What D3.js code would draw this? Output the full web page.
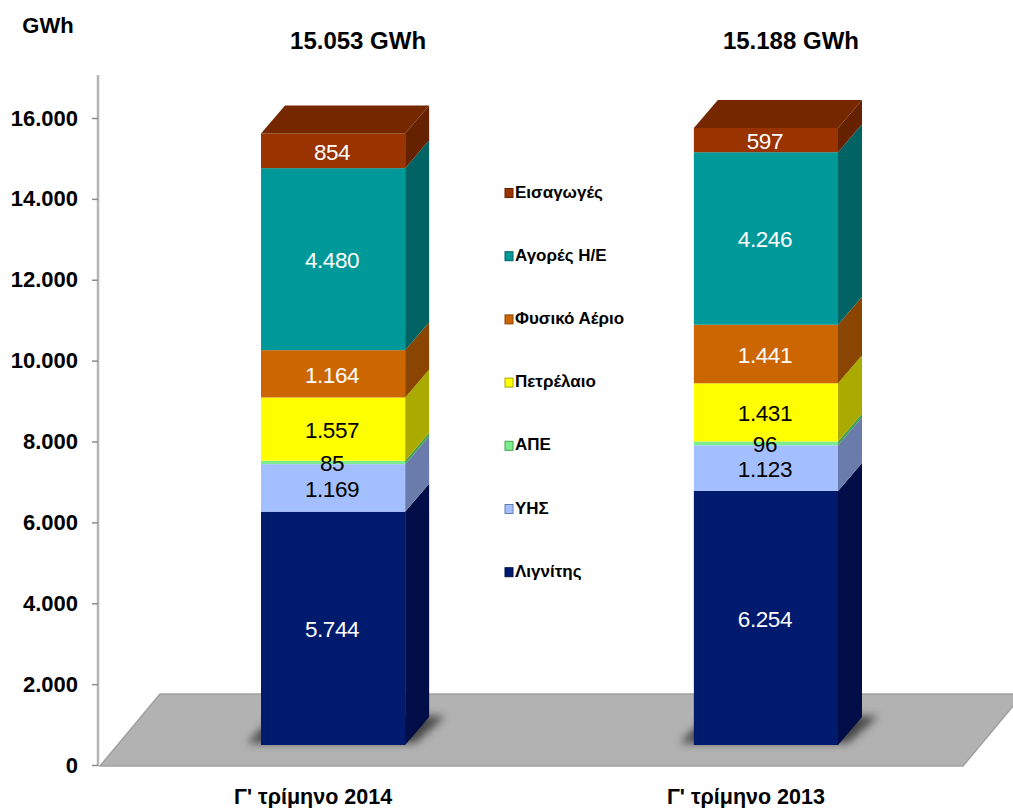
<!DOCTYPE html>
<html>
<head>
<meta charset="utf-8">
<script src="https://cdn.jsdelivr.net/npm/d3@7"></script>
<style>
  html, body { margin: 0; padding: 0; background: #fff; overflow: hidden; }
  svg { display: block; }
  text { font-family: "Liberation Sans", Arial, sans-serif; }
</style>
</head>
<body>
<svg id="chart" width="1013" height="808"></svg>
<script>
const categories = ["Γ' τρίμηνο 2014", "Γ' τρίμηνο 2013"];
const totals = [15053, 15188];
const seriesNames = ["Λιγνίτης", "ΥΗΣ", "ΑΠΕ", "Πετρέλαιο", "Φυσικό Αέριο", "Αγορές Η/Ε", "Εισαγωγές"];
const values2014 = [5744, 1169, 85, 1557, 1164, 4480, 854];
const values2013 = [6254, 1123, 96, 1431, 1441, 4246, 597];
const yTicks = [0, 2000, 4000, 6000, 8000, 10000, 12000, 14000, 16000];

const frontColors = ["#001a6e", "#a4bfff", "#7cec8c", "#ffff00", "#cc6600", "#009999", "#993300"];
const sideColors = ["#000d47", "#6a7cab", "#45a050", "#aaaa00", "#8a4500", "#006464", "#662200"];
const labelColors = ["#fff", "#000", "#000", "#000", "#fff", "#fff", "#fff"];
const legendGap = 63.2;

const svg = d3.select("#chart");
const locale = d3.formatLocale({ decimal: ",", thousands: ".", grouping: [3], currency: ["", ""] });
const fmt = locale.format(",d");

// the axis sits on the back wall, the bars on a plane in front of it
const yAxisScale = d3.scaleLinear().domain([0, 16000]).range([765, 118]);
const yBar = d3.scaleLinear().domain([0, 16000]).range([745, 95]);
const xBar = d3.scaleBand().domain(categories).range([261, 838]).paddingInner(0.667);
const depthX = 24, depthY = 28;
const line = d3.line();

const defs = svg.append("defs");
defs.append("filter").attr("id", "blur")
  .attr("x", "-30%").attr("y", "-30%").attr("width", "160%").attr("height", "160%")
  .append("feGaussianBlur").attr("stdDeviation", 4);

// floor
svg.append("path")
  .attr("d", line([[100, 766], [160, 694], [1023, 694], [963, 766]]) + "Z")
  .attr("fill", "#b2b2b2")
  .attr("stroke", "#a0a0a0")
  .attr("stroke-width", 1.5);

// axis
const yAxis = d3.axisLeft(yAxisScale).tickValues(yTicks).tickFormat(fmt).tickSize(6).tickPadding(14);
const yAxisGroup = svg.append("g").attr("transform", "translate(98,0)").call(yAxis);
yAxisGroup.select(".domain").attr("d", "M0,75V766").attr("stroke", "#b4b4b4").attr("stroke-width", 2.5);
yAxisGroup.selectAll(".tick line").attr("stroke", "#8c8c8c").attr("stroke-width", 1.5);
yAxisGroup.selectAll(".tick text")
  .attr("fill", "#000")
  .attr("font-size", 22)
  .attr("font-weight", "bold")
  .attr("font-family", "Liberation Sans");

svg.append("text").attr("x", 48).attr("y", 33)
  .attr("text-anchor", "middle").attr("font-size", 22).attr("font-weight", "bold").text("GWh");

// bars
[values2014, values2013].forEach((values, i) => {
  const x0 = xBar(categories[i]);
  const x1 = x0 + xBar.bandwidth();
  const g = svg.append("g");

  // soft shadow on the floor
  g.append("path")
    .attr("d", line([[x0 - 14, 743], [x0 + 12, 718], [x1 + depthX + 16, 716], [x1 + 10, 743]]) + "Z")
    .attr("fill", "#444")
    .attr("filter", "url(#blur)");

  let sum = 0;
  const stack = values.map((v, k) => {
    const d = { k, v, y0: sum, y1: sum + v };
    sum += v;
    return d;
  });

  g.selectAll(".side").data(stack).join("path")
    .attr("class", "side")
    .attr("d", (d) => line([
      [x1, yBar(d.y0)], [x1 + depthX, yBar(d.y0) - depthY],
      [x1 + depthX, yBar(d.y1) - depthY], [x1, yBar(d.y1)],
    ]) + "Z")
    .attr("fill", (d) => sideColors[d.k]);

  g.selectAll(".front").data(stack).join("rect")
    .attr("class", "front")
    .attr("x", x0)
    .attr("width", xBar.bandwidth())
    .attr("y", (d) => yBar(d.y1))
    .attr("height", (d) => yBar(d.y0) - yBar(d.y1))
    .attr("fill", (d) => frontColors[d.k]);

  // lid of the top segment
  g.append("path")
    .attr("d", line([
      [x0, yBar(sum)], [x0 + depthX, yBar(sum) - depthY],
      [x1 + depthX, yBar(sum) - depthY], [x1, yBar(sum)],
    ]) + "Z")
    .attr("fill", "#752800");

  g.selectAll(".lab").data(stack).join("text")
    .attr("class", "lab")
    .attr("x", (x0 + x1) / 2 - 1)
    .attr("y", (d) => yBar((d.y0 + d.y1) / 2) + 9)
    .attr("text-anchor", "middle")
    .attr("font-size", 22.5)
    .attr("letter-spacing", -0.4)
    .attr("fill", (d) => labelColors[d.k])
    .text((d) => fmt(d.v));

  // total above, category below
  svg.append("text")
    .attr("x", (x0 + x1) / 2 + 25).attr("y", 49)
    .attr("text-anchor", "middle").attr("font-size", 24).attr("font-weight", "bold")
    .text(fmt(totals[i]) + " GWh");

  svg.append("text")
    .attr("x", (x0 + x1) / 2 - 20).attr("y", 804)
    .attr("text-anchor", "middle").attr("font-size", 21.5).attr("font-weight", "bold")
    .text(categories[i]);
});

// legend, top entry is the last series
const legend = svg.append("g").selectAll("g")
  .data(seriesNames.map((name, k) => ({ name, k })).reverse())
  .join("g")
  .attr("transform", (d, i) => `translate(505,${191.5 + i * legendGap})`);

legend.append("rect")
  .attr("x", 0).attr("y", -3)
  .attr("width", 8).attr("height", 9)
  .attr("fill", (d) => frontColors[d.k])
  .attr("stroke", (d) => sideColors[d.k])
  .attr("stroke-width", 1);

legend.append("text")
  .attr("x", 10).attr("y", 6)
  .attr("font-size", 17)
  .attr("font-weight", "bold")
  .text((d) => d.name);
</script>
</body>
</html>
